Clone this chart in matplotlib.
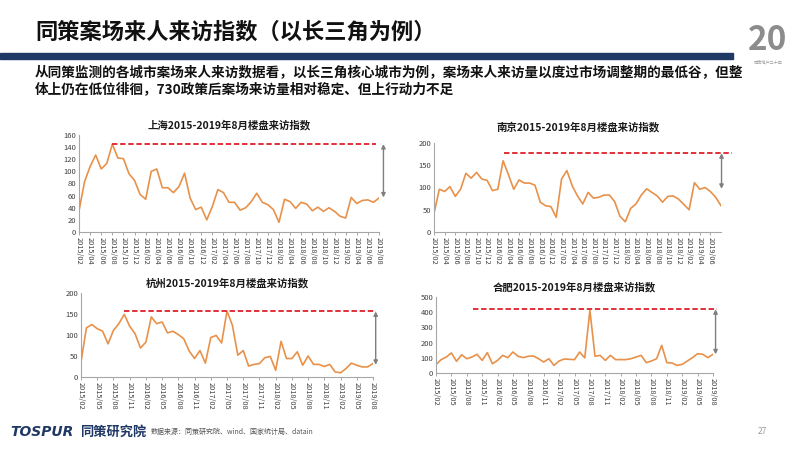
import matplotlib
matplotlib.use('Agg')
import matplotlib.pyplot as plt

plt.rcParams['font.family'] = ['Noto Sans CJK SC', 'DejaVu Sans']

# 月份 2015/02 - 2019/08
months = []
for y in range(2015, 2020):
    for m in range(1, 13):
        if (y == 2015 and m < 2) or (y == 2019 and m > 8):
            continue
        months.append(f'{y}/{m:02d}')

shanghai = [35, 83, 108, 127, 104, 113, 145, 122, 121, 96, 85, 62, 54, 100, 104, 73, 73, 65, 75, 97,
            56, 37, 41, 20, 42, 70, 65, 49, 49, 36, 40, 50, 64, 49, 45, 37, 16, 54, 50, 39,
            49, 46, 35, 41, 34, 40, 34, 26, 23, 57, 47, 52, 53, 49, 56]
nanjing = [42, 96, 91, 102, 80, 96, 132, 121, 134, 119, 116, 93, 96, 160, 129, 96, 117, 110, 110, 105,
           67, 59, 57, 33, 119, 138, 104, 81, 63, 89, 76, 78, 83, 83, 68, 35, 23, 53, 63, 83,
           97, 89, 81, 67, 80, 81, 74, 62, 50, 111, 96, 100, 91, 78, 59]
hangzhou = [36, 117, 125, 115, 109, 79, 111, 127, 149, 121, 103, 69, 83, 143, 127, 131, 105, 109, 101, 91,
            62, 44, 63, 33, 94, 99, 81, 157, 123, 52, 63, 26, 30, 32, 46, 49, 16, 85, 44, 44,
            60, 28, 50, 30, 30, 25, 30, 12, 10, 20, 33, 28, 24, 24, 32]
hefei = [55, 88, 105, 132, 77, 120, 94, 105, 123, 83, 134, 61, 83, 116, 101, 138, 110, 101, 110, 112,
         94, 72, 94, 50, 79, 92, 90, 88, 138, 99, 412, 110, 116, 83, 116, 88, 88, 88, 94, 105,
         116, 68, 79, 94, 182, 68, 66, 50, 57, 79, 101, 127, 123, 101, 123]

titles = ['上海2015-2019年8月楼盘来访指数', '南京2015-2019年8月楼盘来访指数',
          '杭州2015-2019年8月楼盘来访指数', '合肥2015-2019年8月楼盘来访指数']
peak_levels = [145, 177, 156, 419]
arrow_lows = [57, 97, 29, 123]

line_color = '#E8914A'
navy = '#1F3864'

fig = plt.figure(figsize=(8, 4.5), dpi=100)
W, H = 800, 450


def px_axes(left, right, top, bottom):
    return fig.add_axes([left / W, 1 - bottom / H, (right - left) / W, (bottom - top) / H])


def draw_city(ax, data, title, ymax, ystep, tick_every, last_tick, peak, low,
              red_from, red_to, arrow_x, title_y):
    x = list(range(len(data)))
    ax.plot(x, data, color=line_color, lw=1.2)
    ax.set_xlim(0, len(data) - 1)
    ax.set_ylim(0, ymax)
    ax.set_yticks(range(0, ymax + 1, ystep))
    ticks = list(range(0, last_tick + 1, tick_every))
    ax.set_xticks(ticks)
    ax.set_xticklabels([months[i] for i in ticks], rotation=-90, fontsize=5.3, color='#404040')
    ax.tick_params(axis='y', labelsize=5.5, colors='#404040', length=0, pad=2)
    ax.tick_params(axis='x', length=2, width=0.6, color='#999999', pad=1.5)
    for s in ['top', 'right']:
        ax.spines[s].set_visible(False)
    for s in ['left', 'bottom']:
        ax.spines[s].set_color('#A6A6A6')
        ax.spines[s].set_linewidth(0.8)
    ax.plot([red_from, red_to], [peak, peak], color='#E0202A', lw=1.3,
            ls=(0, (3, 1.5)), clip_on=False)
    ax.annotate('', xy=(arrow_x, low), xytext=(arrow_x, peak),
                arrowprops=dict(arrowstyle='<|-|>', color='#7F7F7F', lw=1,
                                mutation_scale=6, shrinkA=0, shrinkB=0),
                annotation_clip=False)
    ax.set_title(title, fontsize=7.5, fontweight='bold', pad=title_y, color='#1a1a1a')


ax1 = px_axes(79, 379, 135, 232)
draw_city(ax1, shanghai, titles[0], 160, 20, 2, 54, peak_levels[0], arrow_lows[0], 6, 53.5, 54.8, 5)
ax2 = px_axes(434, 721, 143, 232)
draw_city(ax2, nanjing, titles[1], 200, 50, 2, 52, peak_levels[1], arrow_lows[1], 13.1, 56, 54.1, 9)
ax3 = px_axes(81, 373, 293, 377)
draw_city(ax3, hangzhou, titles[2], 200, 50, 3, 54, peak_levels[2], arrow_lows[2], 8, 54.6, 54.5, 5)
ax4 = px_axes(436, 713, 297, 373)
draw_city(ax4, hefei, titles[3], 500, 100, 3, 54, peak_levels[3], arrow_lows[3], 7.3, 54.7, 54.5, 5)

# 标题区
fig.text(35 / W, 1 - 32 / H, '同策案场来人来访指数（以长三角为例）', fontsize=16,
         fontweight='bold', va='center', ha='left', color='#111111')
fig.patches.append(plt.Rectangle((0, 1 - 59 / H), 733 / W, 6 / H, transform=fig.transFigure,
                                 color=navy, zorder=0))
fig.text(35 / W, 1 - 73 / H,
         '从同策监测的各城市案场来人来访数据看，以长三角核心城市为例，案场来人来访量以度过市场调整期的最低谷，但整',
         fontsize=9.8, fontweight='bold', va='center', ha='left', color='#111111')
fig.text(35 / W, 1 - 89 / H, '体上仍在低位徘徊，730政策后案场来访量相对稳定、但上行动力不足',
         fontsize=9.8, fontweight='bold', va='center', ha='left', color='#111111')

# 右上角标志
fig.text(768 / W, 1 - 40 / H, '20', fontsize=24, fontweight='bold', color='#8C8C8C',
         ha='center', va='center')
fig.text(768 / W, 1 - 62 / H, '同策地产二十年', fontsize=3, color='#A0A0A0', ha='center', va='center')

# 页脚
fig.text(10 / W, 1 - 432 / H, 'TOSPUR', fontsize=10, fontweight='bold', style='italic',
         color=navy, ha='left', va='center', family='DejaVu Sans')
fig.text(80 / W, 1 - 432 / H, '同策研究院', fontsize=9.5, fontweight='bold', color=navy,
         ha='left', va='center')
fig.text(151 / W, 1 - 432 / H, '数据来源：同策研究院、wind、国家统计局、datain', fontsize=5,
         color='#555555', ha='left', va='center')
fig.text(762 / W, 1 - 432 / H, '27', fontsize=6, color='#999999', ha='center', va='center')

fig.savefig('out.png', dpi=100, facecolor='white')
